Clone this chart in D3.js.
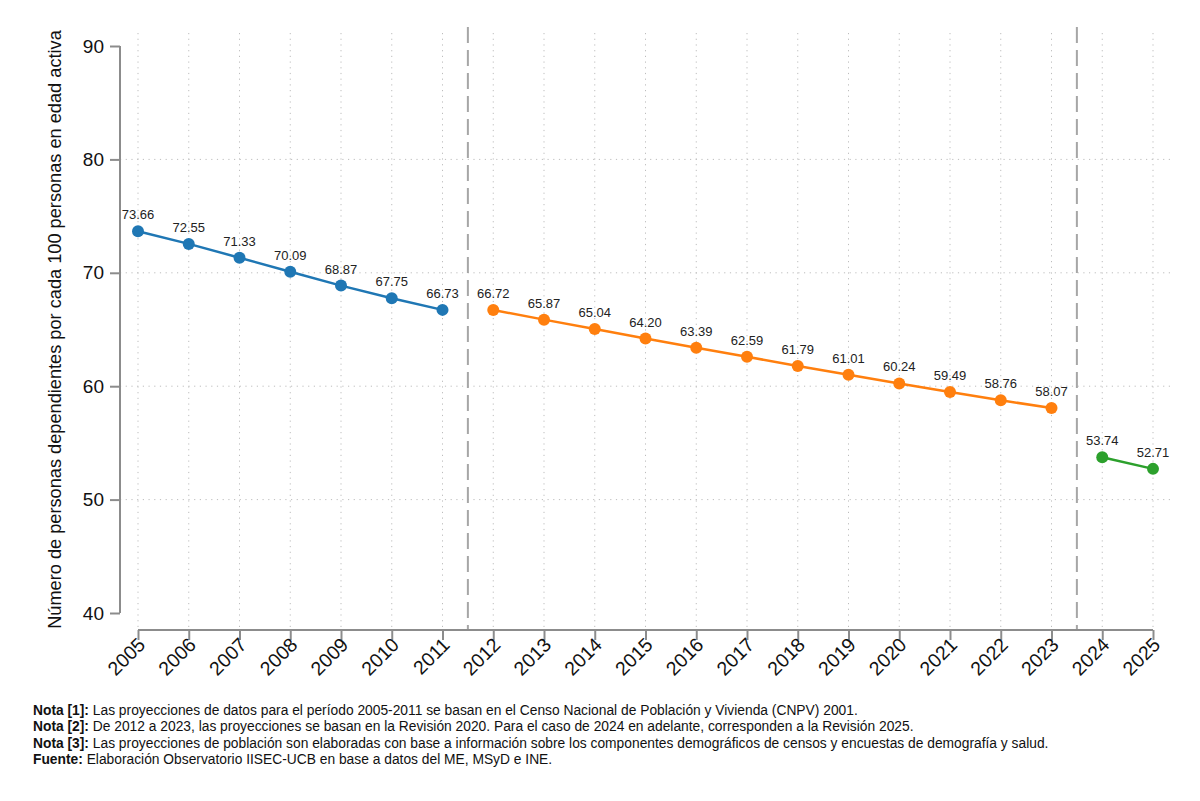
<!DOCTYPE html>
<html><head><meta charset="utf-8">
<script src="https://cdn.jsdelivr.net/npm/d3@7"></script>
<style>body{margin:0;background:#fff}svg{display:block}</style>
</head><body>
<svg id="c" width="1200" height="801"></svg>
<script>
const years1 = [2005,2006,2007,2008,2009,2010,2011];
const values1 = [73.66,72.55,71.33,70.09,68.87,67.75,66.73];
const years2 = [2012,2013,2014,2015,2016,2017,2018,2019,2020,2021,2022,2023];
const values2 = [66.72,65.87,65.04,64.20,63.39,62.59,61.79,61.01,60.24,59.49,58.76,58.07];
const years3 = [2024,2025];
const values3 = [53.74,52.71];
const yTicks = [40,50,60,70,80,90];
const xTicks = d3.range(2005,2026);
const breaks = [2011.5, 2023.5];
const colors = ["#1f77b4","#ff7f0e","#2ca02c"];
const yTitle = "Número de personas dependientes por cada 100 personas en edad activa";
const notes = [
  ["Nota [1]:", " Las proyecciones de datos para el período 2005-2011 se basan en el Censo Nacional de Población y Vivienda (CNPV) 2001."],
  ["Nota [2]:", " De 2012 a 2023, las proyecciones se basan en la Revisión 2020. Para el caso de 2024 en adelante, corresponden a la Revisión 2025."],
  ["Nota [3]:", " Las proyecciones de población son elaboradas con base a información sobre los componentes demográficos de censos y encuestas de demografía y salud."],
  ["Fuente:", " Elaboración Observatorio IISEC-UCB en base a datos del ME, MSyD e INE."]
];

const font = "'Liberation Sans',Arial,sans-serif";
const svg = d3.select("#c");
const x = d3.scaleLinear().domain([2005,2025]).range([138,1153]);
const y = d3.scaleLinear().domain([40,90]).range([613,46]);
const axisColor = "#8c8c8c";

// grid
const g = svg.append("g");
g.selectAll(".vg").data(xTicks).join("line")
  .attr("x1",d=>x(d)).attr("x2",d=>x(d)).attr("y1",33).attr("y2",630)
  .attr("stroke","#bdbdbd").attr("stroke-width",1).attr("stroke-dasharray","1.2,4.5");
g.selectAll(".hg").data(yTicks.filter(d=>d>40&&d<90)).join("line")
  .attr("x1",120).attr("x2",1172).attr("y1",d=>y(d)).attr("y2",d=>y(d))
  .attr("stroke","#bdbdbd").attr("stroke-width",1).attr("stroke-dasharray","1.2,4.5");

// dashed breaks
g.selectAll(".br").data(breaks).join("line")
  .attr("x1",d=>x(d)).attr("x2",d=>x(d)).attr("y1",27).attr("y2",630)
  .attr("stroke","#a6a6a6").attr("stroke-width",2).attr("stroke-dasharray","16,7");

// y axis
const ya = svg.append("g").attr("transform","translate(120,0)")
  .call(d3.axisLeft(y).tickValues(yTicks).tickSize(10).tickPadding(6).tickFormat(d3.format("d")));
ya.select(".domain").attr("stroke",axisColor).attr("stroke-width",2).attr("d","M0,"+y(90)+"V"+y(40));
ya.selectAll(".tick line").attr("stroke",axisColor).attr("stroke-width",2);
ya.selectAll("text").attr("font-family",font).attr("font-size",19).attr("fill","#111");

// x axis
const xa = svg.append("g").attr("transform","translate(0,630)")
  .call(d3.axisBottom(x).tickValues(xTicks).tickSize(10).tickFormat(d3.format("d")));
xa.select(".domain").attr("stroke",axisColor).attr("stroke-width",2).attr("d","M"+x(2005)+",0H"+x(2025));
xa.selectAll(".tick line").attr("stroke",axisColor).attr("stroke-width",2);
xa.selectAll("text").attr("font-family",font).attr("font-size",19.5).attr("fill","#111")
  .attr("text-anchor","end").attr("dy",0).attr("y",0)
  .attr("transform","translate(8,16) rotate(-45)");

// y title
svg.append("text").attr("transform",`translate(61,${(y(90)+y(40))/2}) rotate(-90)`)
  .attr("text-anchor","middle").attr("font-family",font).attr("font-size",18.2).attr("fill","#111")
  .text(yTitle);

// series
const series = [[years1,values1],[years2,values2],[years3,values3]];
const line = d3.line().x(d=>x(d[0])).y(d=>y(d[1]));
series.forEach(([ys,vs],i)=>{
  const pts = ys.map((yr,j)=>[yr,vs[j]]);
  const sg = svg.append("g");
  sg.append("path").datum(pts).attr("d",line).attr("fill","none").attr("stroke",colors[i]).attr("stroke-width",2.5);
  sg.selectAll("circle").data(pts).join("circle").attr("cx",d=>x(d[0])).attr("cy",d=>y(d[1])).attr("r",6).attr("fill",colors[i]);
  sg.selectAll("text").data(pts).join("text").attr("x",d=>x(d[0])).attr("y",d=>y(d[1])-12)
    .attr("text-anchor","middle").attr("font-family",font).attr("font-size",13).attr("fill","#222")
    .text(d=>d[1].toFixed(2));
});

// notes
const nt = svg.append("g");
notes.forEach((n,i)=>{
  const t = nt.append("text").attr("x",33).attr("y",715+i*16.4).attr("font-family",font).attr("font-size",13.8).attr("fill","#111");
  t.append("tspan").attr("font-weight","bold").text(n[0]);
  t.append("tspan").text(n[1]);
});
</script>
</body></html>
